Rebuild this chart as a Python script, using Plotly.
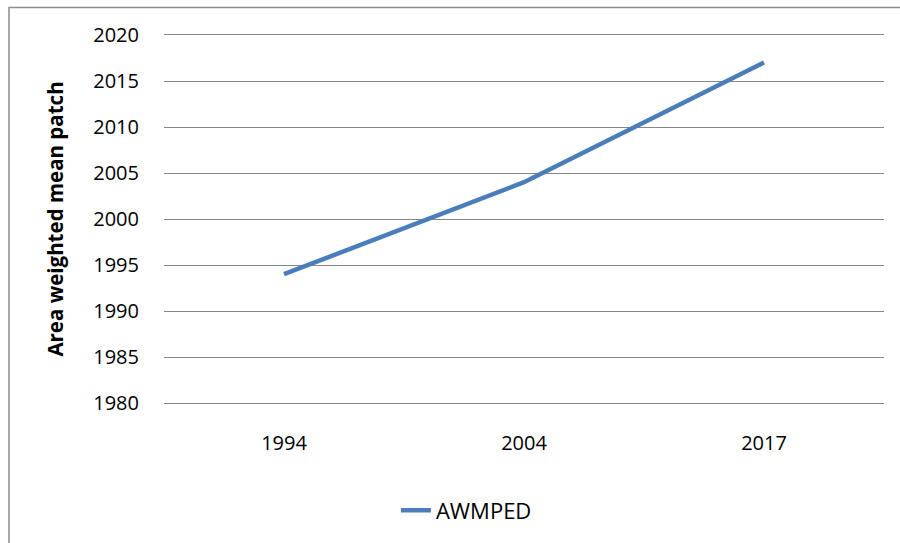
import plotly.graph_objects as go

# Data
categories = ["1994", "2004", "2017"]
awmped = [1994, 2004, 2017]
series_name = "AWMPED"
y_ticks = [1980, 1985, 1990, 1995, 2000, 2005, 2010, 2015, 2020]

W, H = 900, 543
L, R, T, B = 164, 16, 35, 135
plot_w = W - L - R
plot_h = H - T - B

fig = go.Figure()
fig.add_trace(go.Scatter(
    x=categories, y=awmped, mode="lines", name=series_name,
    line=dict(color="#4A7EBB", width=4.5),
))

font_family = "Open Sans, Noto Sans, sans-serif"
grid_color = "#868686"

fig.update_layout(
    width=W, height=H,
    margin=dict(l=L, r=R, t=T, b=B),
    paper_bgcolor="white", plot_bgcolor="white",
    font=dict(family=font_family, size=20, color="black"),
    showlegend=True,
    legend=dict(
        orientation="h", x=0.42, xanchor="center", y=-0.235, yanchor="top",
        font=dict(size=22, color="black"),
    ),
    xaxis=dict(
        type="category", range=[-0.5, 2.5],
        showgrid=False, zeroline=False,
        showline=True, linecolor=grid_color, linewidth=1.3, mirror=True,
        ticks="", ticklabelstandoff=22,
        tickfont=dict(size=20),
    ),
    yaxis=dict(
        range=[1980, 2020], tickvals=y_ticks,
        showgrid=True, gridcolor=grid_color, gridwidth=1.3,
        zeroline=False, showline=False, ticks="",
        ticklabelstandoff=24, tickfont=dict(size=20),
        title=dict(text="<b>Area weighted mean patch</b>", font=dict(size=20.5), standoff=24),
    ),
)

# Outer chart border (extends past the right and bottom edges)
fig.add_shape(
    type="rect", xref="paper", yref="paper",
    x0=(9 - L) / plot_w, x1=(W + 20 - L) / plot_w,
    y0=-(H + 20 - T - plot_h) / plot_h, y1=(T + plot_h - 7) / plot_h,
    line=dict(color="#8C8C8C", width=1.5), fillcolor="rgba(0,0,0,0)",
    layer="below",
)

fig.write_html("out.html")
